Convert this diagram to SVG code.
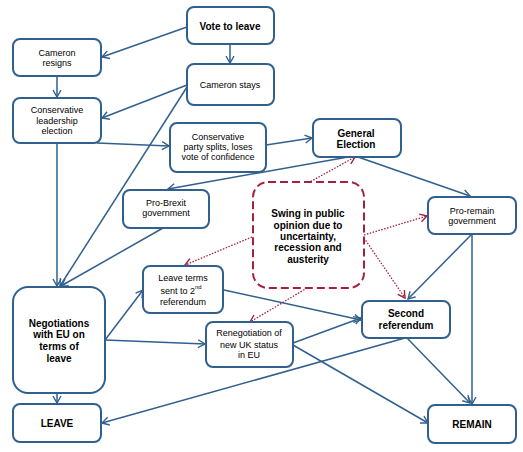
<svg xmlns="http://www.w3.org/2000/svg" width="523" height="452" viewBox="0 0 523 452">
<defs>
<marker id="ab" markerUnits="userSpaceOnUse" markerWidth="12" markerHeight="12" refX="8" refY="5" orient="auto">
<path d="M1,1 L8,5 L1,9" fill="none" stroke="#31608F" stroke-width="1.4"/>
</marker>
<marker id="ar" markerUnits="userSpaceOnUse" markerWidth="12" markerHeight="12" refX="8" refY="5" orient="auto">
<path d="M1,1 L8,5 L1,9" fill="none" stroke="#A3203F" stroke-width="1.4"/>
</marker>
</defs>
<style>
.n rect{fill:#fff;stroke:#31608F;stroke-width:2}
.sw rect{fill:#fff;stroke:#A3203F;stroke-width:2;stroke-dasharray:8,4}
text{font-family:"Liberation Sans",Arial,sans-serif;font-size:9px;fill:#000;text-anchor:middle}
.b{font-weight:bold;font-size:10px}
.c line{stroke:#31608F;stroke-width:1.5;marker-end:url(#ab)}
.d line{stroke:#A3203F;stroke-width:1.3;stroke-dasharray:1.5,1.5;marker-end:url(#ar)}
</style>
<rect width="523" height="452" fill="#fff"/>
<g id="connectors">
<g class="c">
<line x1="187" y1="27" x2="102" y2="57"/>
<line x1="230" y1="44" x2="230" y2="63"/>
<line x1="57" y1="76" x2="57" y2="97"/>
<line x1="187" y1="85" x2="102" y2="118"/>
<line x1="187" y1="87" x2="60" y2="286"/>
<line x1="57" y1="143" x2="57" y2="286"/>
<line x1="97" y1="143" x2="169" y2="146"/>
<line x1="266" y1="145" x2="312" y2="138"/>
<line x1="348" y1="157" x2="168" y2="189"/>
<line x1="358" y1="157" x2="470" y2="196"/>
<line x1="163" y1="228" x2="61" y2="286"/>
<line x1="472" y1="234" x2="408" y2="299"/>
<line x1="472" y1="234" x2="472" y2="404"/>
<line x1="105" y1="340" x2="143" y2="290"/>
<line x1="105" y1="340" x2="205" y2="344"/>
<line x1="57" y1="393" x2="57" y2="403"/>
<line x1="224" y1="290" x2="361" y2="320"/>
<line x1="293" y1="343" x2="361" y2="318"/>
<line x1="293" y1="345" x2="428" y2="423"/>
<line x1="405" y1="338" x2="102" y2="423"/>
<line x1="407" y1="338" x2="470" y2="403"/>
</g>
<g class="d">
<line x1="308" y1="183" x2="355" y2="157"/>
<line x1="364" y1="235" x2="427" y2="216"/>
<line x1="252" y1="237" x2="185" y2="265"/>
<line x1="364" y1="238" x2="405" y2="298"/>
<line x1="307" y1="288" x2="250" y2="322"/>
</g>
</g>
<g id="vote" class="n"><rect x="187" y="7" width="87" height="37" rx="7"/><text x="230" y="30" class="b">Vote to leave</text></g>
<g id="resigns" class="n"><rect x="13" y="39" width="88" height="37" rx="7"/><text x="57" y="56">Cameron</text><text x="57" y="66">resigns</text></g>
<g id="stays" class="n"><rect x="187" y="64" width="87" height="41" rx="7"/><text x="230" y="88">Cameron stays</text></g>
<g id="leadership" class="n"><rect x="13" y="98" width="88" height="45" rx="7"/><text x="57" y="113">Conservative</text><text x="57" y="124">leadership</text><text x="57" y="134">election</text></g>
<g id="splits" class="n"><rect x="170" y="123" width="96" height="49" rx="7"/><text x="218" y="140">Conservative</text><text x="218" y="150">party splits, loses</text><text x="218" y="160">vote of confidence</text></g>
<g id="general" class="n"><rect x="313" y="119" width="88" height="38" rx="7"/><text x="356" y="137" class="b">General</text><text x="356" y="148" class="b">Election</text></g>
<g id="probrexit" class="n"><rect x="123" y="190" width="86" height="38" rx="7"/><text x="166" y="206">Pro-Brexit</text><text x="166" y="216">government</text></g>
<g id="swing" class="sw"><rect x="253" y="182" width="111" height="106" rx="15"/><text x="308" y="217" class="b">Swing in public</text><text x="308" y="229" class="b">opinion due to</text><text x="308" y="240" class="b">uncertainty,</text><text x="308" y="251" class="b">recession and</text><text x="308" y="263" class="b">austerity</text></g>
<g id="proremain" class="n"><rect x="428" y="197" width="88" height="37" rx="7"/><text x="472" y="214">Pro-remain</text><text x="472" y="224">government</text></g>
<g id="leaveterms" class="n"><rect x="143" y="266" width="80" height="47" rx="7"/><text x="183" y="281">Leave terms</text><text x="181" y="294">sent to 2<tspan font-size="6" dy="-5">nd</tspan></text><text x="183" y="305">referendum</text></g>
<g id="negotiations" class="n"><rect x="13" y="287" width="92" height="106" rx="15"/><text x="59" y="327" class="b">Negotiations</text><text x="59" y="338" class="b">with EU on</text><text x="59" y="350" class="b">terms of</text><text x="59" y="362" class="b">leave</text></g>
<g id="renegotiation" class="n"><rect x="206" y="322" width="87" height="45" rx="7"/><text x="249" y="336">Renegotiation of</text><text x="249" y="348">new UK status</text><text x="249" y="358">in EU</text></g>
<g id="second" class="n"><rect x="362" y="301" width="88" height="37" rx="7"/><text x="406" y="317" class="b">Second</text><text x="406" y="329" class="b">referendum</text></g>
<g id="leave" class="n"><rect x="13" y="404" width="88" height="38" rx="7"/><text x="57" y="427" class="b">LEAVE</text></g>
<g id="remain" class="n"><rect x="428" y="405" width="88" height="38" rx="7"/><text x="472" y="428" class="b">REMAIN</text></g>
</svg>
